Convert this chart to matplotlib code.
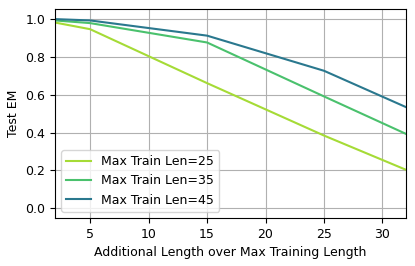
import numpy as np
import matplotlib
matplotlib.use("Agg")
import matplotlib.pyplot as plt

# extra length over the max training length
extra_len = [2, 5, 15, 25, 32]

em_25 = [0.979, 0.944, 0.66, 0.384, 0.204]
em_35 = [0.99, 0.976, 0.874, 0.59, 0.393]
em_45 = [0.997, 0.99, 0.91, 0.725, 0.534]

labels = ["Max Train Len=25", "Max Train Len=35", "Max Train Len=45"]
colors = ["#a5db36", "#4ac16d", "#2a788e"]


def plot():
    fig = plt.figure(figsize=(4.15, 2.66), dpi=100)
    ax = fig.add_axes([0.1325, 0.1805, 0.8455, 0.7855])

    for ys, lab, c in zip([em_25, em_35, em_45], labels, colors):
        ax.plot(extra_len, ys, color=c, lw=1.5, label=lab)

    ax.set_xlim(2, 32)
    ax.set_ylim(-0.05, 1.05)
    ax.set_xticks([5, 10, 15, 20, 25, 30])
    ax.set_yticks(np.arange(0, 1.01, 0.2))
    ax.grid(True, color="#b0b0b0", lw=0.8)
    ax.tick_params(labelsize=9)
    ax.set_xlabel("Additional Length over Max Training Length", fontsize=9)
    ax.set_ylabel("Test EM", fontsize=9)
    ax.legend(loc="lower left", fontsize=9)

    fig.savefig("out.png", dpi=100)


if __name__ == "__main__":
    plot()
